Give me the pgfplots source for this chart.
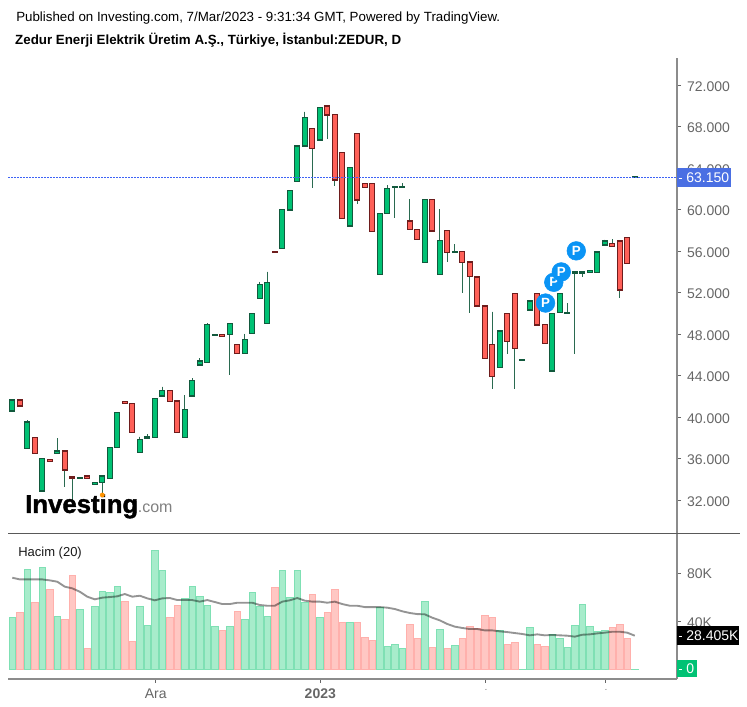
\documentclass[border=0pt]{standalone}
\usepackage{pgfplots}
\pgfplotsset{compat=1.18}
\usepackage{fontspec}
\setmainfont{Liberation Sans}

\definecolor{upfill}{HTML}{00C274}
\definecolor{upline}{HTML}{12593D}
\definecolor{dnfill}{HTML}{FF6058}
\definecolor{dnline}{HTML}{6E1C1C}
\definecolor{wick}{HTML}{2A6A50}
\definecolor{volup}{HTML}{A7ECCB}
\definecolor{voluplin}{HTML}{7FE0B4}
\definecolor{voldn}{HTML}{FFC7C3}
\definecolor{voldnlin}{HTML}{FFB0AC}
\definecolor{lastblue}{HTML}{4A6FE3}
\definecolor{dotblue}{HTML}{3D62F5}
\definecolor{pblue}{HTML}{0A94F5}
\definecolor{axisgray}{HTML}{8C8C8C}
\definecolor{labgray}{HTML}{666666}

% i, body top, body bottom, high, low
\newcommand\candle[7]{%
  \pgfmathsetmacro\xa{#3-0.345}\pgfmathsetmacro\xb{#3+0.345}%
  \addplot[draw=wick,fill=wick,line width=0.75pt] coordinates {(#3,#6) (#3,#7)};
  \addplot[draw=#1,fill=#2,line width=0.85pt] coordinates {(\xa,#4) (\xb,#4) (\xb,#5) (\xa,#5)} -- cycle;
}
\newcommand\up[5]{\candle{upline}{upfill}{#1}{#2}{#3}{#4}{#5}}
\newcommand\dn[5]{\candle{dnline}{dnfill}{#1}{#2}{#3}{#4}{#5}}

\begin{document}
\begin{tikzpicture}
\path[use as bounding box] (0,0) rectangle (560.25pt,530.25pt);

\begin{axis}[
  name=price, at={(6pt,129.75pt)}, anchor=south west,
  scale only axis, width=501.75pt, height=357pt,
  xmin=-0.573, xmax=88.63, ymin=28.77, ymax=74.65,
  clip=false,
  axis y line*=right, axis x line=none,
  y axis line style={draw=axisgray,line width=1.5pt,-},
  ytick={32,36,40,44,48,52,56,60,64,68,72},
  yticklabels={32.000,36.000,40.000,44.000,48.000,52.000,56.000,60.000,64.000,68.000,72.000},
  tick align=outside, major tick length=3pt,
  tick style={draw=labgray,line width=0.75pt},
  yticklabel style={font=\fontsize{10.5}{12}\selectfont,color=labgray,xshift=1pt,yshift=-0.6pt},
]
\up{0}{41.69}{40.63}{41.69}{40.63}
\dn{1}{41.69}{41.11}{41.69}{41.11}
\up{2}{39.57}{37.00}{39.73}{37.00}
\dn{3}{38.09}{36.55}{38.09}{36.55}
\up{4}{36.07}{32.92}{36.07}{32.92}
\dn{5}{35.97}{35.78}{35.97}{35.78}
\up{6}{36.77}{36.52}{37.99}{36.52}
\dn{7}{36.77}{34.94}{36.77}{33.33}
\dn{8}{34.27}{34.10}{34.27}{31.90}
\up{9}{34.17}{34.10}{34.17}{34.10}
\dn{10}{34.36}{34.10}{34.36}{34.10}
\up{11}{33.75}{33.53}{33.75}{33.53}
\up{12}{34.36}{33.75}{34.36}{32.37}
\up{13}{37.13}{34.14}{37.13}{34.14}
\up{14}{40.50}{37.13}{40.50}{37.13}
\dn{15}{41.50}{41.34}{41.50}{41.34}
\dn{16}{41.37}{38.57}{41.37}{38.57}
\up{17}{37.90}{36.65}{38.15}{36.65}
\up{18}{38.12}{37.96}{38.38}{37.96}
\up{19}{41.85}{38.09}{41.85}{38.09}
\up{20}{42.56}{42.07}{42.97}{42.07}
\dn{21}{42.56}{41.56}{42.56}{41.56}
\dn{22}{41.59}{38.57}{41.59}{38.57}
\up{23}{40.79}{38.09}{42.14}{38.09}
\up{24}{43.55}{42.07}{43.78}{42.07}
\up{25}{45.45}{45.06}{45.70}{45.06}
\up{26}{48.95}{45.32}{49.08}{45.32}
\up{27}{48.02}{47.92}{48.02}{47.92}
\dn{28}{48.02}{47.79}{48.02}{47.79}
\up{29}{49.08}{47.98}{49.08}{44.10}
\dn{30}{47.02}{46.15}{47.02}{46.15}
\up{31}{47.50}{46.15}{48.05}{46.15}
\up{32}{50.04}{48.08}{50.04}{48.08}
\up{33}{52.83}{51.45}{53.06}{51.45}
\up{34}{53.03}{49.04}{54.06}{49.04}
\dn{35}{55.98}{55.89}{55.98}{55.89}
\up{36}{60.03}{56.27}{60.03}{56.27}
\up{37}{61.86}{60.00}{61.86}{60.00}
\up{38}{66.17}{62.76}{66.17}{62.76}
\up{39}{68.93}{66.17}{69.48}{66.17}
\dn{40}{67.84}{65.91}{67.84}{62.12}
\up{41}{69.89}{66.74}{69.89}{66.74}
\dn{42}{70.02}{69.15}{70.02}{66.84}
\dn{43}{69.19}{62.89}{69.19}{62.34}
\dn{44}{65.56}{59.16}{65.56}{59.16}
\up{45}{64.11}{58.46}{64.11}{58.46}
\dn{46}{67.39}{60.96}{67.39}{60.58}
\dn{47}{62.54}{62.18}{62.54}{62.18}
\dn{48}{62.54}{57.94}{62.54}{57.94}
\up{49}{59.64}{53.76}{59.64}{53.76}
\up{50}{62.09}{59.64}{62.38}{59.64}
\up{51}{62.21}{62.15}{62.21}{59.26}
\up{52}{62.21}{62.15}{62.57}{62.15}
\dn{53}{58.94}{58.10}{61.03}{58.10}
\dn{54}{58.10}{57.14}{58.10}{57.14}
\up{55}{60.99}{54.95}{60.99}{54.95}
\dn{56}{60.99}{57.98}{60.99}{57.98}
\up{57}{57.02}{53.74}{60.08}{53.74}
\dn{58}{58.00}{55.92}{58.00}{55.02}
\up{59}{55.95}{55.89}{56.72}{55.89}
\dn{60}{55.98}{54.96}{55.98}{52.03}
\dn{61}{54.99}{53.60}{54.99}{50.10}
\dn{62}{53.54}{50.75}{53.54}{50.75}
\dn{63}{50.75}{45.67}{50.75}{45.67}
\dn{64}{47.05}{43.97}{50.20}{42.75}
\up{65}{48.33}{44.83}{48.33}{44.83}
\dn{66}{50.04}{47.34}{50.04}{46.12}
\dn{67}{51.97}{46.63}{51.97}{42.75}
\up{68}{45.60}{45.54}{45.60}{45.54}
\up{69}{51.23}{50.36}{51.23}{50.36}
\dn{70}{51.97}{48.92}{51.97}{48.92}
\dn{71}{48.95}{47.12}{48.95}{47.12}
\up{72}{50.04}{44.48}{50.04}{44.48}
\up{73}{51.97}{50.10}{51.97}{50.10}
\up{74}{50.10}{50.00}{51.03}{50.00}
\up{75}{54.02}{53.93}{54.02}{46.12}
\up{76}{54.02}{53.93}{54.02}{53.57}
\up{77}{54.15}{53.99}{54.15}{53.99}
\up{78}{55.95}{53.99}{55.95}{53.99}
\up{79}{57.01}{56.63}{57.14}{56.63}
\dn{80}{56.75}{56.50}{57.17}{56.50}
\dn{81}{57.01}{52.29}{57.01}{51.55}
\dn{82}{57.36}{54.83}{57.36}{54.83}
\up{83}{63.20}{63.15}{63.20}{63.15}

% publication markers
\pgfplotsset{pmark/.style={only marks,mark=*,mark size=7pt,color=pblue,
  nodes near coords={P},every node near coord/.style={anchor=center,text=white,
  font=\bfseries\fontsize{10}{10}\selectfont}}}
\addplot[pmark] coordinates {(72.2,53.03)};
\addplot[pmark] coordinates {(73.2,54.03)};
\addplot[pmark] coordinates {(71.1,51.03)};
\addplot[pmark] coordinates {(75.2,56.06)};

% logo dot
\addplot[only marks,mark=*,mark size=1.6pt,color=orange!85!yellow] coordinates {(12,32.53)};

\node[anchor=base west,inner sep=0pt,text=black] at (axis cs:1.69,30.8)
  {\addfontfeature{FakeBold=1.5}\bfseries\fontsize{19.3}{20}\selectfont Investing};
\node[anchor=base west,inner sep=0pt,text=gray] at (axis cs:16.7,30.8)
  {\fontsize{12}{14}\selectfont.com};

% last value tag
\node[fill=lastblue,text=white,anchor=west,inner sep=0pt,minimum height=14.5pt,text width=40.5pt,align=left]
  at (axis cs:88.63,63.15) {\fontsize{10.5}{12}\selectfont\hspace*{1pt}\rule[0.25em]{2.2pt}{0.75pt}\hspace{3.6pt}63.150};
\end{axis}

% last price line in its own axis: as the first plot of an axis it keeps its colour
\begin{axis}[
  at={(6pt,129.75pt)}, anchor=south west,
  scale only axis, width=501.75pt, height=357pt,
  xmin=-0.573, xmax=88.63, ymin=28.77, ymax=74.65,
  hide axis,
]
\addplot[color=dotblue,line width=0.75pt,dash pattern=on 1.5pt off 0.75pt] coordinates {(-0.573,63.15) (88.63,63.15)};
\end{axis}

\begin{axis}[
  name=vol, at={(6pt,21pt)}, anchor=south west,
  scale only axis, width=501.75pt, height=108.75pt,
  xmin=-0.573, xmax=88.63, ymin=-7.45, ymax=112.6,
  clip=false,
  axis y line*=right, axis x line*=bottom,
  y axis line style={draw=axisgray,line width=1.5pt,-},
  x axis line style={draw=axisgray,line width=1pt,-},
  ytick={40,80}, yticklabels={40K,80K},
  xtick={19.12,41.07,63.16,79.16},
  xticklabels={Ara,\textbf{2023},\tiny-,\tiny-},
  tick align=outside, major tick length=3pt,
  tick style={draw=labgray,line width=0.75pt},
  yticklabel style={font=\fontsize{10.5}{12}\selectfont,color=labgray,xshift=1pt,yshift=-0.6pt},
  xticklabel style={font=\fontsize{10.5}{12}\selectfont,color=labgray,yshift=-1pt},
]
\addplot[ybar,bar width=4.875pt,bar shift=0pt,fill=volup,draw=voluplin,line width=0.75pt] table {
0 43.3
2 83.3
4 84.7
6 44.1
9 50.5
11 52.7
12 65.1
13 64
14 69.2
17 52.7
18 37.2
19 99
20 82.5
23 58.8
24 69.2
25 61
26 53.8
27 36.1
29 36.1
31 42.2
32 64
33 52.7
34 44.1
36 82.5
37 59.9
38 82.5
39 55.7
41 43.3
45 39.2
49 51.6
50 19.6
51 21.5
52 17.4
55 56.8
57 33.9
59 20.4
65 32.3
68 0.3
69 35
72 29.8
73 25.7
74 18.5
75 37
76 54.6
77 36.1
78 32
79 32.8
83 0.3
};
\addplot[ybar,bar width=4.875pt,bar shift=0pt,fill=voldn,draw=voldnlin,line width=0.75pt] table {
1 47.4
3 55.7
5 66.8
7 42.2
8 78.3
10 17.4
15 56.8
16 23.7
21 43.3
22 53.5
28 33.1
30 48.6
35 68.1
40 62.9
42 47.4
43 67
44 39.2
46 39.2
47 26.8
48 24.6
53 38
54 25.7
56 18.5
58 17.4
60 25.7
61 36.1
62 34.2
63 45.2
64 43.3
66 21.5
67 22.6
70 21.5
71 19.6
80 35
81 38
82 25.7
};
% 20 day average
\addplot[color=black,opacity=0.42,line width=1.4pt] table {
0 76.4
1 75
2 75
3 75
4 75
5 74.2
6 73.1
7 69
8 67.6
9 64.8
10 60.7
11 58.5
12 59.9
13 60.4
14 61
15 62.9
16 60.7
17 61.5
18 59.3
19 57.7
20 59.3
21 59.6
22 57.9
23 57.9
24 57.9
25 56.6
26 57.9
27 56.3
28 54.6
29 54.6
30 55.7
31 55.7
32 55.7
33 53.8
34 53.2
35 53.2
36 56.6
37 57.7
38 59.6
39 57.4
40 56.6
41 56.6
42 55.7
43 56.6
44 54.6
45 53.2
46 53.2
47 52.1
48 52.1
49 52.1
50 51.6
51 50.5
52 48.6
53 47.2
54 46.3
55 46.1
56 43.3
57 41.1
58 38.1
59 35.9
60 34.8
61 33.9
62 33.9
63 32.8
64 32.8
65 32
66 31.4
67 30.6
68 29.8
69 28.7
70 29.5
71 28.7
72 29
73 28.7
74 28.4
75 27.6
76 29.2
77 29.5
78 30.3
79 30.9
80 31.7
81 31.7
82 30.9
83 28.4
};
\node[anchor=west,inner sep=0pt,text=black!90] at (axis cs:0.76,96.5)
  {\fontsize{9.75}{12}\selectfont Hacim (20)};
\node[fill=black,text=white,anchor=west,inner sep=0pt,minimum height=14.5pt,text width=46.5pt,align=left]
  at (axis cs:88.63,28.405) {\fontsize{10.5}{12}\selectfont\hspace*{1pt}\rule[0.25em]{2.2pt}{0.75pt}\hspace{3.6pt}28.405K};
\node[fill=upfill,text=white,anchor=west,inner sep=0pt,minimum height=12.5pt,text width=15pt,align=left]
  at (axis cs:88.63,1.2) {\fontsize{10.5}{12}\selectfont\hspace*{1pt}\rule[0.25em]{2.2pt}{0.75pt}\hspace{3.6pt}0};
\end{axis}

% panel separator and header text
\draw[color=black!65,line width=0.75pt] (6pt,129.75pt) -- (555pt,129.75pt);
\node[anchor=base west,inner sep=0pt,text=black] at (12pt,514pt)
  {\fontsize{10}{12}\selectfont Published on Investing.com, 7/Mar/2023 - 9:31:34 GMT, Powered by TradingView.};
\node[anchor=base west,inner sep=0pt,text=black] at (11.2pt,496.5pt)
  {\bfseries\fontsize{10}{12}\selectfont Zedur Enerji Elektrik Üretim A.Ş., Türkiye, İstanbul:ZEDUR, D};
\end{tikzpicture}
\end{document}
